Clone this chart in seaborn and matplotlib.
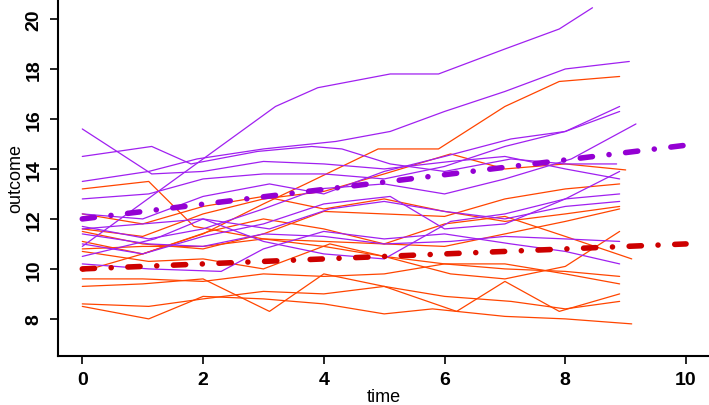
import matplotlib
matplotlib.use("Agg")
from matplotlib import pyplot as plt
import pandas as pd
import seaborn as sns

# individual trajectories (time, outcome) per subject
purple_times = [
    [0, 1.2, 3.2, 3.9, 5.1, 5.9, 7.0, 7.9, 8.45],
    [0, 1.15, 2.0, 3.0, 4.0, 5.0, 6.1, 7.0, 8.0, 8.9],
    [0, 1.15, 1.8, 2.9, 3.8, 4.3, 5.1, 6.0, 7.1, 8.0, 8.85],
    [0, 1.1, 1.9, 3.0, 4.2, 5.1, 6.0, 7.0, 8.0, 9.06],
    [0, 1.1, 2.0, 3.0, 4.0, 5.0, 6.0, 7.0, 8.0, 8.9],
    [0, 1.0, 2.0, 3.1, 4.0, 5.0, 6.0, 7.1, 8.0, 8.9],
    [0, 1.1, 2.0, 3.0, 3.9, 5.0, 6.0, 7.0, 8.1, 9.17],
    [0, 1.0, 2.0, 3.1, 4.1, 5.0, 6.0, 7.0, 8.0, 8.9],
    [0, 1.1, 2.0, 3.0, 4.0, 5.0, 6.1, 7.0, 8.0, 8.9],
    [0, 1.0, 2.0, 3.0, 4.0, 5.1, 6.0, 7.0, 8.0, 8.9],
    [0, 1.2, 2.0, 3.0, 4.0, 5.0, 6.1, 7.0, 8.0, 8.9],
    [0, 1.1, 2.3, 3.0, 4.0, 5.0, 6.0, 7.1, 8.0, 8.9],
]
purple_values = [
    [10.9, 13.0, 16.5, 17.25, 17.8, 17.8, 18.8, 19.6, 20.45],
    [15.6, 13.8, 13.9, 14.3, 14.2, 14.0, 14.3, 14.5, 14.0, 13.6],
    [14.5, 14.9, 14.2, 14.7, 14.9, 14.8, 14.2, 13.9, 14.4, 14.2, 14.2],
    [13.5, 13.9, 14.4, 14.8, 15.1, 15.5, 16.3, 17.1, 18.0, 18.3],
    [12.8, 13.0, 13.6, 13.8, 13.8, 13.6, 14.1, 14.9, 15.5, 16.5],
    [12.2, 12.0, 12.9, 13.4, 13.0, 13.9, 14.5, 15.2, 15.5, 16.3],
    [11.7, 11.2, 11.6, 12.4, 13.2, 13.4, 13.0, 13.6, 14.4, 15.8],
    [11.6, 11.8, 12.0, 11.6, 12.4, 12.7, 12.3, 12.0, 12.5, 12.7],
    [11.4, 11.0, 10.9, 11.4, 11.3, 11.0, 11.1, 11.3, 11.2, 11.1],
    [11.0, 10.6, 11.3, 11.8, 12.6, 12.9, 11.6, 11.8, 12.8, 13.0],
    [10.5, 11.2, 12.0, 11.1, 10.6, 10.4, 11.9, 12.2, 12.8, 13.9],
    [10.2, 10.0, 9.9, 10.8, 11.5, 11.2, 11.4, 11.0, 10.7, 10.2],
]
red_times = [
    [0, 1.1, 1.85, 3.0, 4.0, 5.0, 6.0, 7.0, 8.0, 8.9],
    [0, 1.0, 2.0, 3.0, 3.7, 4.9, 5.9, 7.0, 7.9, 8.9],
    [0, 1.0, 2.0, 3.0, 4.0, 5.0, 6.1, 7.0, 8.0, 9.0],
    [0, 1.0, 2.0, 3.0, 4.0, 5.0, 6.0, 7.0, 8.0, 8.9],
    [0, 1.0, 2.1, 3.0, 4.0, 5.0, 6.0, 7.0, 8.0, 8.9],
    [0, 1.0, 2.0, 3.0, 4.0, 5.0, 6.0, 7.0, 8.0, 9.1],
    [0, 1.1, 2.0, 3.0, 4.1, 5.0, 6.1, 7.0, 8.0, 8.9],
    [0, 1.0, 2.0, 3.0, 4.0, 5.0, 6.0, 7.0, 8.0, 8.9],
    [0, 1.0, 2.0, 3.1, 4.0, 5.0, 6.2, 7.0, 7.9, 8.9],
    [0, 1.1, 2.0, 3.0, 4.0, 5.0, 6.0, 7.1, 8.0, 8.9],
    [0, 1.1, 2.0, 3.0, 4.0, 5.0, 5.8, 7.0, 8.0, 9.1],
    [0, 1.0, 2.0, 3.0, 4.0, 5.0, 6.0, 7.0, 8.0, 8.9],
]
red_values = [
    [13.2, 13.5, 11.7, 11.2, 10.9, 10.5, 10.2, 10.0, 9.9, 9.7],
    [9.9, 10.6, 11.4, 12.6, 13.4, 14.8, 14.8, 16.5, 17.5, 17.7],
    [11.6, 11.3, 12.2, 12.8, 13.1, 13.8, 14.6, 14.0, 14.2, 13.96],
    [11.5, 11.0, 10.8, 11.4, 12.3, 12.2, 12.1, 12.8, 13.2, 13.4],
    [11.1, 10.6, 11.5, 12.0, 11.6, 11.0, 10.9, 11.4, 11.9, 12.4],
    [10.8, 10.9, 10.9, 11.2, 11.1, 11.0, 11.8, 12.1, 11.3, 10.4],
    [10.7, 10.3, 10.4, 10.0, 11.0, 10.5, 9.8, 9.6, 10.1, 11.5],
    [9.6, 9.6, 9.5, 9.8, 9.7, 9.8, 10.2, 10.2, 9.8, 9.4],
    [9.3, 9.4, 9.6, 8.3, 9.8, 9.3, 8.3, 9.5, 8.3, 9.0],
    [8.6, 8.5, 8.8, 9.1, 9.0, 9.3, 8.9, 8.7, 8.4, 8.7],
    [8.5, 8.0, 8.9, 8.8, 8.6, 8.2, 8.4, 8.1, 8.0, 7.8],
    [12.2, 11.8, 12.5, 12.9, 12.4, 12.8, 12.3, 11.9, 12.2, 12.5],
]

# group mean trends
mean_time = [0, 10]
mean_purple = [12.0, 14.95]
mean_red = [10.0, 11.0]

rows = []
for i, (ts, vs) in enumerate(zip(red_times, red_values)):
    for t, v in zip(ts, vs):
        rows.append(("r%d" % i, "red", t, v))
for i, (ts, vs) in enumerate(zip(purple_times, purple_values)):
    for t, v in zip(ts, vs):
        rows.append(("p%d" % i, "purple", t, v))
df = pd.DataFrame(rows, columns=["id", "group", "time", "outcome"])

sns.set_style("ticks")
plt.rcParams["font.family"] = ["Liberation Sans Narrow", "Liberation Sans", "DejaVu Sans"]

fig = plt.figure(figsize=(7.09, 4.06), dpi=100)
ax = fig.add_axes([0.082, 0.121, 0.918, 0.879])

sns.lineplot(data=df, x="time", y="outcome", hue="group", units="id",
             estimator=None, palette={"red": "#FF4500", "purple": "#A020F0"},
             hue_order=["red", "purple"], linewidth=0.9, legend=False,
             sort=False, ax=ax)

# dash-dot mean lines
dash = (2.2, 3.0, 0.01, 3.0)
for vals, col in [(mean_red, "#CD0000"), (mean_purple, "#9400D3")]:
    ax.plot(mean_time, vals, color=col, lw=4, dashes=dash,
            dash_capstyle="round", zorder=5)

ax.set_xlim(-0.4, 10.38)
ax.set_ylim(6.52, 20.8)
ax.set_xticks([0, 2, 4, 6, 8, 10])
ax.set_yticks([8, 10, 12, 14, 16, 18, 20])
ax.tick_params(axis="both", length=6, width=1.2, color="black",
               labelcolor="black", labelsize=14, pad=5)
for lab in ax.get_xticklabels() + ax.get_yticklabels():
    lab.set_fontweight("bold")
for lab in ax.get_yticklabels():
    lab.set_rotation(90)
    lab.set_va("center")
ax.set_xlabel("time", fontsize=13, labelpad=0, color="black")
ax.set_ylabel("outcome", fontsize=13, labelpad=1, color="black")
for s in ["top", "right"]:
    ax.spines[s].set_visible(False)
for s in ["left", "bottom"]:
    ax.spines[s].set_linewidth(1.5)
    ax.spines[s].set_color("black")

fig.savefig("out.png", dpi=100)
